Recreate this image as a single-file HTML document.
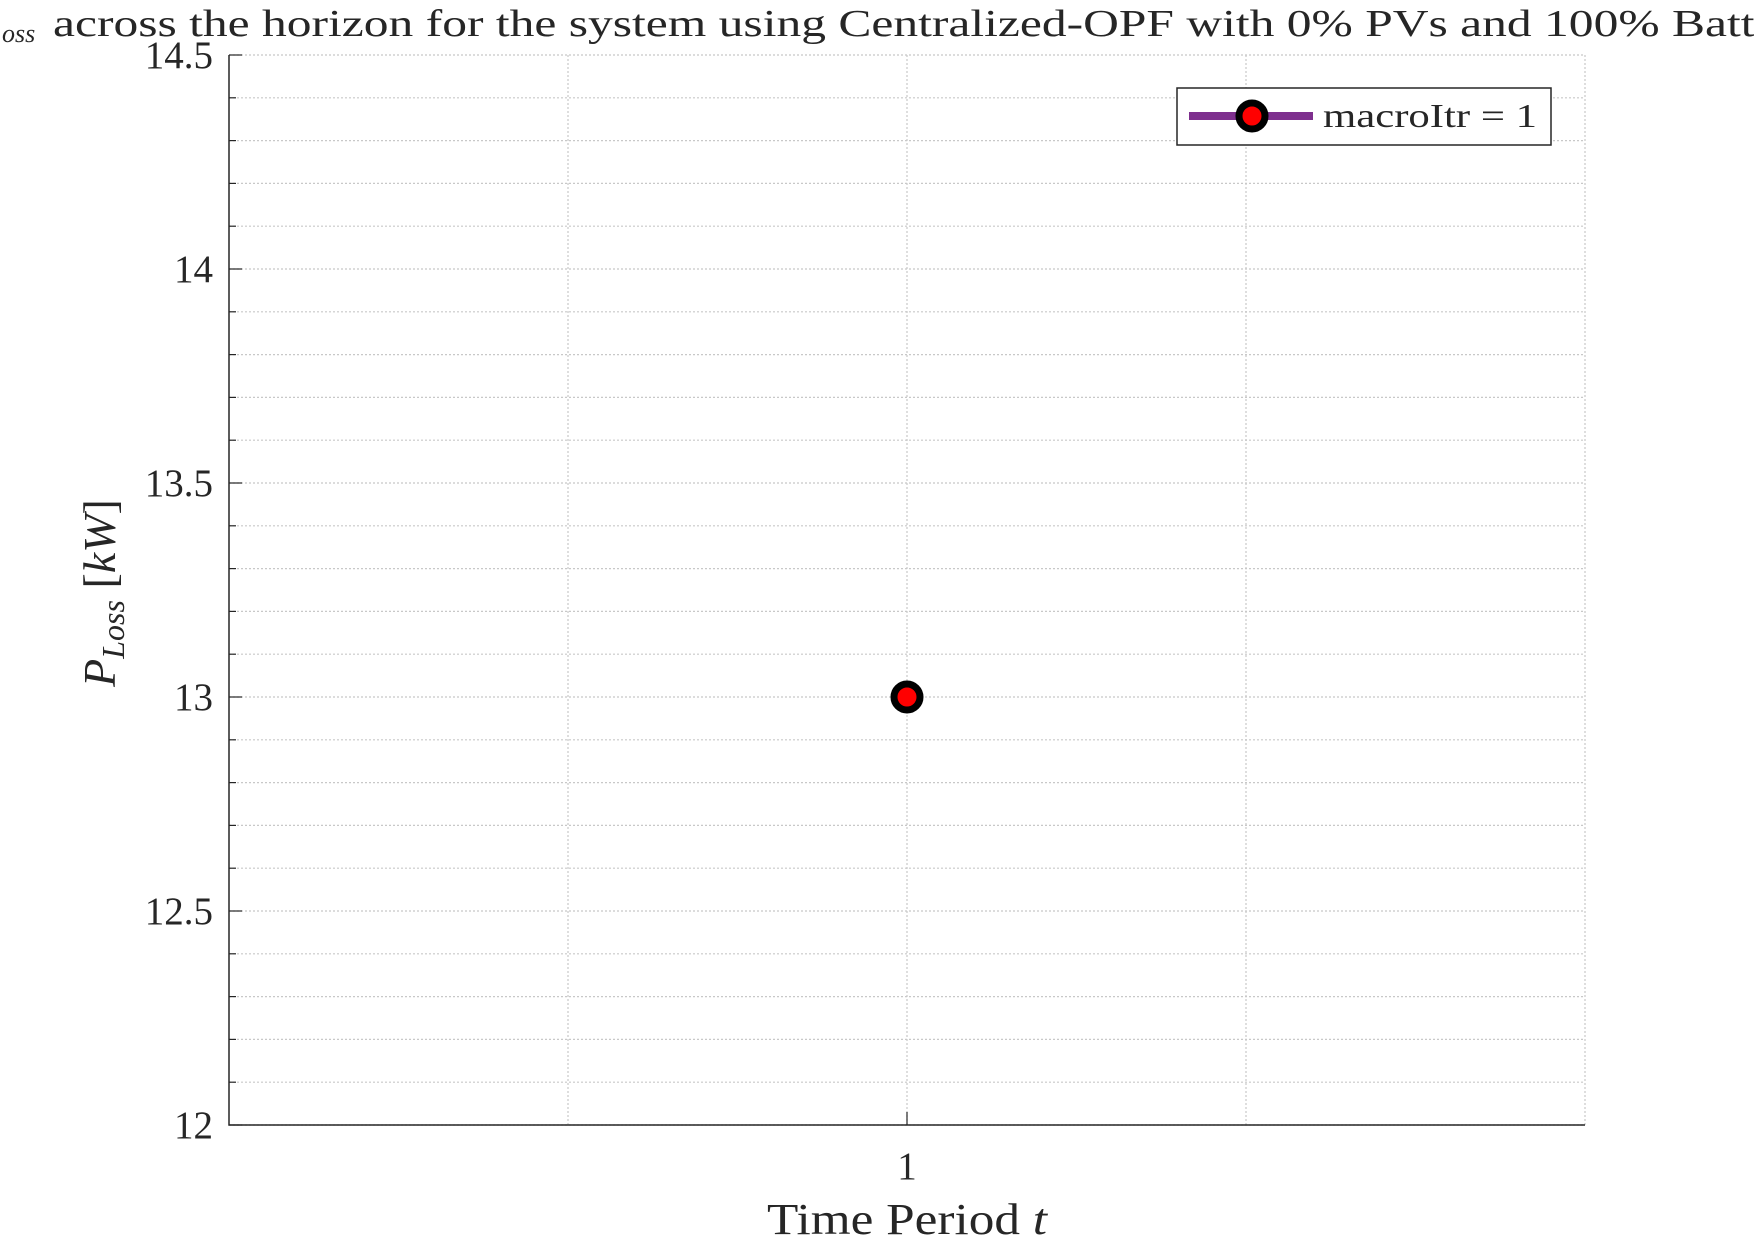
<!DOCTYPE html>
<html><head><meta charset="utf-8"><style>body{margin:0;background:#fff}svg{display:block}text{font-family:"Liberation Serif",serif;fill:#262626}</style></head>
<body>
<svg id="chart" width="1754" height="1238" viewBox="0 0 1754 1238">
<text x="0" y="36" font-size="38" fill="#000"><tspan font-style="italic" font-size="26" dy="6" x="2">oss</tspan><tspan dy="-6" x="53" textLength="1795" lengthAdjust="spacingAndGlyphs">across the horizon for the system using Centralized-OPF with 0% PVs and 100% Batteries</tspan></text>
<g id="grid"></g><g id="axes"></g><g id="marks"></g>
<g>
<rect x="1177" y="88" width="374" height="57" fill="#fff" stroke="#262626" stroke-width="1.5"/>
<line x1="1189" y1="116" x2="1313" y2="116" stroke="#7E2F8E" stroke-width="8"/>
<circle cx="1252" cy="116" r="13" fill="red" stroke="#000" stroke-width="7"/>
<text x="1323" y="127" font-size="34" textLength="214" lengthAdjust="spacingAndGlyphs">macroItr = 1</text>
</g>
<text transform="translate(115,593) rotate(-90)" text-anchor="middle" font-size="46"><tspan font-style="italic">P</tspan><tspan font-style="italic" font-size="32" dy="9">Loss</tspan><tspan dy="-9"> [</tspan><tspan font-style="italic">kW</tspan>]</text>
<text x="767" y="1234" font-size="44" textLength="280" lengthAdjust="spacingAndGlyphs">Time Period <tspan font-style="italic">t</tspan></text>
</svg>
<script>
const xCats=[1];
const seriesLoss=[13];
const yTicks=[12,12.5,13,13.5,14,14.5];
const yTickLabels=["12","12.5","13","13.5","14","14.5"];
const L=229,R=1585,T=55,B=1125;
const xs=v=>L+(v-0.5)/(1.0)*(R-L);
const ys=v=>B-(v-12)/2.5*(B-T);
const NS="http://www.w3.org/2000/svg";
function mk(t,a,p){const e=document.createElementNS(NS,t);for(const k in a)e.setAttribute(k,a[k]);p.appendChild(e);return e;}
const grid=document.getElementById('grid'),axes=document.getElementById('axes'),marks=document.getElementById('marks');
for(let i=0;i<=25;i++){const v=12+i*0.1;const y=ys(v);
 const g=mk('line',{x1:L,x2:R,y1:y,y2:y,stroke:'#c8c8c8','stroke-width':1.2,'stroke-dasharray':'2,2'},grid);
 
 
 const tk=mk('line',{x1:L,x2:L+(i%5==0?13:7),y1:y,y2:y,stroke:'#262626','stroke-width':1.2},axes);
 
 }
[0.75,1,1.25,1.5].forEach(v=>{const x=xs(v);
 const g=mk('line',{x1:x,x2:x,y1:T,y2:B,stroke:'#c8c8c8','stroke-width':1.2,'stroke-dasharray':'2,2'},grid);
 
 });
const ax=mk('path',{d:`M${L},${T}V${B}H${R}`,fill:'none',stroke:'#262626','stroke-width':1.5},axes);


yTicks.forEach((v,i)=>{const t=mk('text',{x:L-16,y:ys(v)+13,'text-anchor':'end','font-size':39},axes);t.textContent=yTickLabels[i];
 
 });
xCats.forEach(v=>{const x=xs(v);
 const tk=mk('line',{x1:x,x2:x,y1:B,y2:B-13,stroke:'#262626','stroke-width':1.2},axes);
 
 
 const t=mk('text',{x:x,y:B+54,'text-anchor':'middle','font-size':39},axes);t.textContent=String(v);
 
 });
seriesLoss.forEach((v,i)=>{const c=mk('circle',{cx:xs(xCats[i]),cy:ys(v),r:13,fill:'red',stroke:'#000','stroke-width':7},marks);
 
 });
</script>
</body></html>
